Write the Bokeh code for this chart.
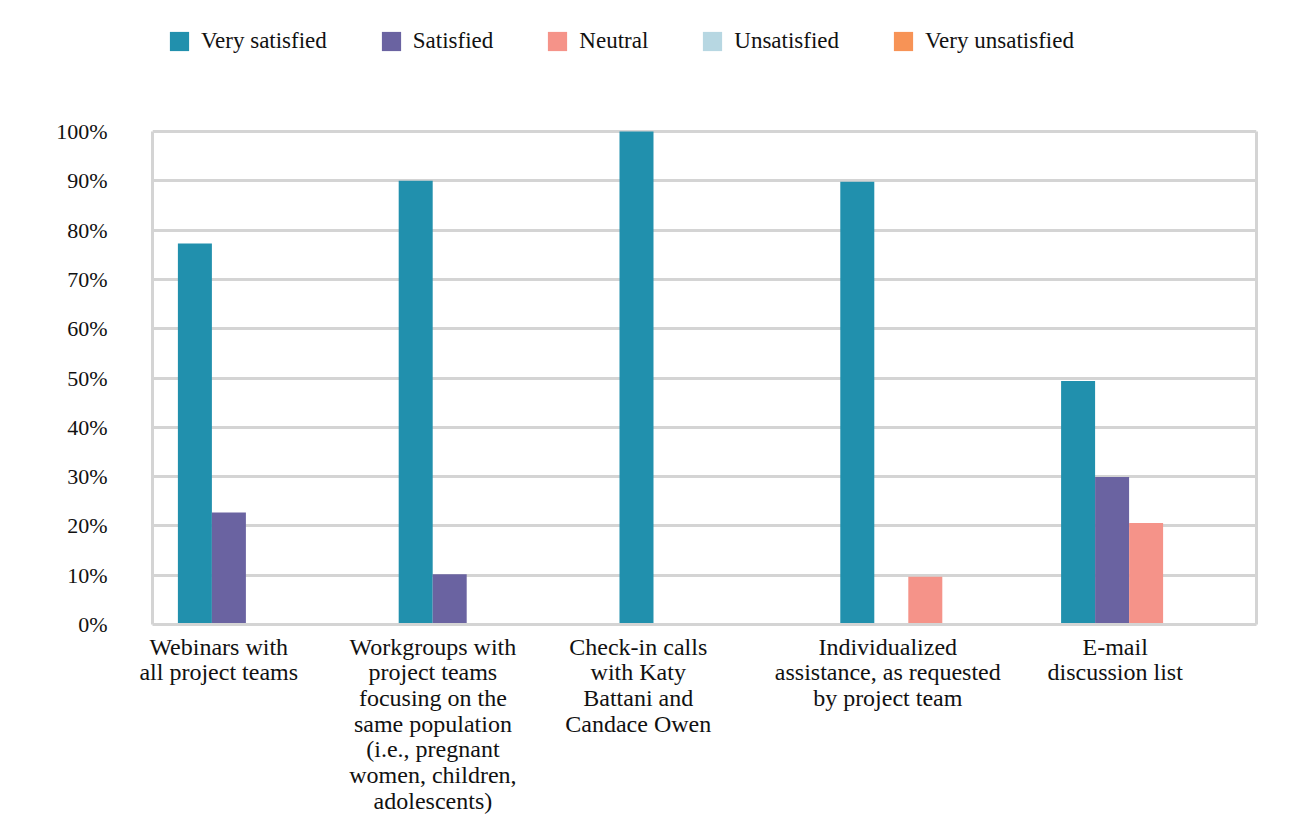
from bokeh.plotting import figure
from bokeh.models import (ColumnDataSource, Range1d, FixedTicker, LinearAxis,
                          PrintfTickFormatter, Legend, LegendItem,
                          CustomJSTickFormatter)
from bokeh.transform import dodge
from bokeh.embed import file_html
from bokeh.resources import INLINE

categories = [
    "Webinars with all project teams",
    "Workgroups with project teams focusing on the same population",
    "Check-in calls with Katy Battani and Candace Owen",
    "Individualized assistance, as requested by project team",
    "E-mail discussion list",
]
category_labels = [
    "Webinars with\nall project teams",
    "Workgroups with\nproject teams\nfocusing on the\nsame population\n(i.e., pregnant\nwomen, children,\nadolescents)",
    "Check-in calls\nwith Katy\nBattani and\nCandace Owen",
    "Individualized\nassistance, as requested\nby project team",
    "E-mail\ndiscussion list",
]
series = ["Very satisfied", "Satisfied", "Neutral", "Unsatisfied", "Very unsatisfied"]
very_satisfied = [77.3, 90.0, 100.0, 89.8, 49.4]
satisfied = [22.7, 10.2, 0.0, 0.0, 29.9]
neutral = [0.0, 0.0, 0.0, 9.7, 20.6]
unsatisfied = [0.0, 0.0, 0.0, 0.0, 0.0]
very_unsatisfied = [0.0, 0.0, 0.0, 0.0, 0.0]
y_ticks = [0, 10, 20, 30, 40, 50, 60, 70, 80, 90, 100]

colors = ["#2190ad", "#6a63a1", "#f59389", "#b7d7e2", "#f79356"]
# horizontal shift of each category label, in fractions of a category slot (layout only)
label_shift = [-0.20, -0.23, -0.30, -0.17, -0.14]

n_cat = len(categories)
slot_center = [i + 0.5 for i in range(n_cat)]  # category slots on a unit-per-category axis

src = ColumnDataSource(dict(
    cat=categories, xc=slot_center,
    vs=very_satisfied, s=satisfied, n=neutral, u=unsatisfied, vu=very_unsatisfied,
))

FONT = "Liberation Serif"
GRID = "#d4d4d4"

# layout (pixels): the frame reaches the top of the canvas so the legend can sit inside it;
# the 0-100 % plot box spans PLOT_TOP..PLOT_BOTTOM
PLOT_TOP, PLOT_BOTTOM = 131, 624
y_end = 100.0 * PLOT_BOTTOM / (PLOT_BOTTOM - PLOT_TOP)

p = figure(x_range=Range1d(0, n_cat), y_range=Range1d(0, y_end), title=None,
           width=1299, height=837, output_backend="svg", toolbar_location=None,
           min_border_left=152, min_border_right=43, min_border_top=0,
           min_border_bottom=837 - PLOT_BOTTOM)
p.background_fill_color = "white"
p.border_fill_color = "white"
p.outline_line_color = None

bw = 0.154
cols = ["vs", "s", "n", "u", "vu"]
offsets = [-2 * bw, -bw, 0.0, bw, 2 * bw]
renderers = []
for col, off, c in zip(cols, offsets, colors):
    r = p.vbar(x=dodge("xc", off), top=col, width=bw,
               source=src, fill_color=c, line_color=None)
    renderers.append(r)

p.xgrid.grid_line_color = None
p.ygrid.grid_line_color = GRID
p.ygrid.grid_line_width = 3
p.ygrid.ticker = FixedTicker(ticks=y_ticks)

ya = p.yaxis[0]
ya.ticker = FixedTicker(ticks=y_ticks)
ya.formatter = PrintfTickFormatter(format="%d%%")
ya.bounds = (0, 100)
ya.axis_line_color = GRID
ya.axis_line_width = 3
ya.major_tick_line_color = None
ya.minor_tick_line_color = None
ya.major_tick_out = 0
ya.major_label_standoff = 45
ya.major_label_text_font = FONT
ya.major_label_text_font_size = "22px"
ya.major_label_text_color = "#111111"

right_axis = LinearAxis(ticker=FixedTicker(ticks=[]), bounds=(0, 100),
                        axis_line_color=GRID, axis_line_width=3,
                        major_tick_line_color=None, minor_tick_line_color=None,
                        major_label_text_font_size="0px")
p.add_layout(right_axis, "right")

label_ticks = [c + sh for c, sh in zip(slot_center, label_shift)]
xa = p.xaxis[0]
xa.ticker = FixedTicker(ticks=label_ticks, minor_ticks=[])
xa.formatter = CustomJSTickFormatter(args=dict(labels=category_labels),
                                     code="return labels[Math.floor(tick)];")
xa.axis_line_color = GRID
xa.axis_line_width = 3
xa.major_tick_line_color = None
xa.minor_tick_line_color = None
xa.major_tick_out = 0
xa.major_tick_in = 0
xa.major_label_standoff = 9
xa.major_label_text_font = FONT
xa.major_label_text_font_size = "24px"
xa.major_label_text_color = "#111111"
xa.major_label_text_line_height = 0.99

legend = Legend(items=[LegendItem(label=s_, renderers=[r]) for s_, r in zip(series, renderers)],
                orientation="horizontal", location=(15, PLOT_BOTTOM - 54),
                glyph_width=24, glyph_height=24, label_height=24, label_standoff=10,
                spacing=52, padding=0, margin=0, border_line_color=None,
                background_fill_alpha=0, label_text_font=FONT,
                label_text_font_size="23px", label_text_color="#111111")
p.add_layout(legend, "center")

open("out.html", "w").write(file_html(p, INLINE))
